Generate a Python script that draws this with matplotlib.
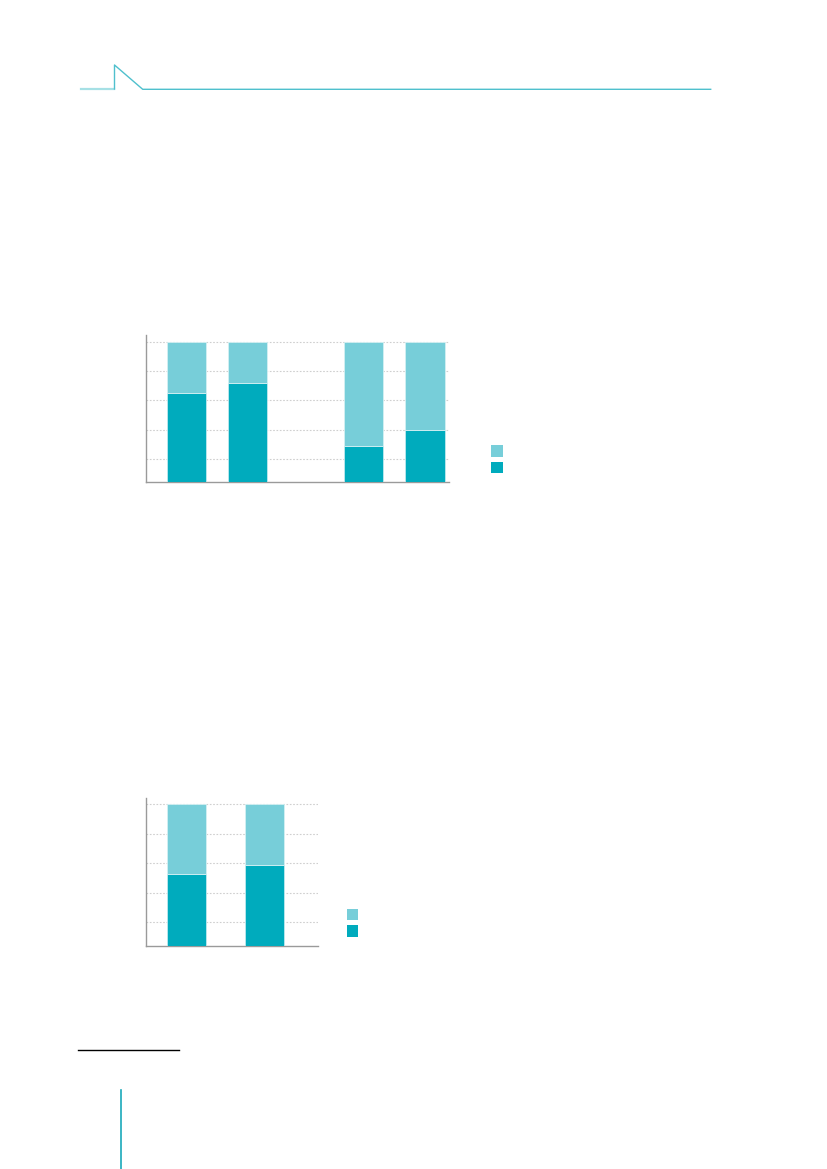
import matplotlib.pyplot as plt
from matplotlib.patches import Rectangle
from matplotlib.lines import Line2D

# chart 1: four stacked bars (share of dark part, rest is light up to 100)
bars1_pos = [0, 1, 2.9, 3.9]
bars1_dark = [65, 72, 29, 40]
bars1_total = [100, 100, 100, 100]

# chart 2: two stacked bars
bars2_pos = [0, 1]
bars2_dark = [52.5, 58.5]
bars2_total = [100, 100]

grid_ticks = [20, 40, 60, 80, 100]

DARK = '#00abbd'
LIGHT = '#77ced9'
W, H = 827, 1169


def px_axes(fig, left, top, right, bottom):
    return fig.add_axes([left / W, 1 - bottom / H, (right - left) / W, (bottom - top) / H])


def stacked(ax, pos, dark, total, width, xlim, ylim):
    light = [t - d for t, d in zip(total, dark)]
    ax.bar(pos, dark, width, color=DARK, edgecolor='#bfe9ee', linewidth=0.6, zorder=3)
    ax.bar(pos, light, width, bottom=dark, color=LIGHT, edgecolor='#d4f0f3', linewidth=0.6, zorder=3)
    ax.set_xlim(*xlim)
    ax.set_ylim(*ylim)
    ax.set_yticks(grid_ticks)
    ax.yaxis.grid(True, color='#cfcfcf', linestyle=(0, (1.5, 1.5)), linewidth=0.8, zorder=0)
    ax.tick_params(left=False, bottom=False, labelleft=False, labelbottom=False)
    ax.set_xticks([])
    for s in ['top', 'right']:
        ax.spines[s].set_visible(False)
    for s in ['left', 'bottom']:
        ax.spines[s].set_color('#9a9a9a')
        ax.spines[s].set_linewidth(1.0)


fig = plt.figure(figsize=(8.27, 11.69), dpi=100)

ax1 = px_axes(fig, 146, 335, 449, 482)
stacked(ax1, bars1_pos, bars1_dark, bars1_total, 0.645, (-0.658, 4.293), (4.3, 104.7))

ax2 = px_axes(fig, 146, 798, 318, 946)
stacked(ax2, bars2_pos, bars2_dark, bars2_total, 0.501, (-0.514, 1.684), (3.9, 104.1))

# legend swatches (no text in the source)
def swatch(x, y, c):
    fig.add_artist(Rectangle((x / W, 1 - (y + 11.5) / H), 11.5 / W, 11.5 / H,
                             transform=fig.transFigure, color=c, lw=0))

swatch(491, 445, LIGHT)
swatch(491, 461.5, DARK)
swatch(346.5, 908.5, LIGHT)
swatch(346.5, 925, DARK)

# page decorations: header tab line and footnote rules
def pline(xs, ys, c, lw):
    fig.add_artist(Line2D([x / W for x in xs], [1 - y / H for y in ys],
                          transform=fig.transFigure, color=c, linewidth=lw))

pline([80.5, 114.5], [89, 89], '#a6e0e5', 1.6)
pline([114.5, 114.5, 142.7, 710.7], [89, 65, 89.3, 89.3], '#4fc0cd', 1.0)
pline([78.3, 178.7], [1050.3, 1050.3], '#000000', 1.0)
pline([121.3, 121.3], [1090.3, 1169], '#1aa9ba', 1.2)

fig.savefig('out.png', dpi=100)
